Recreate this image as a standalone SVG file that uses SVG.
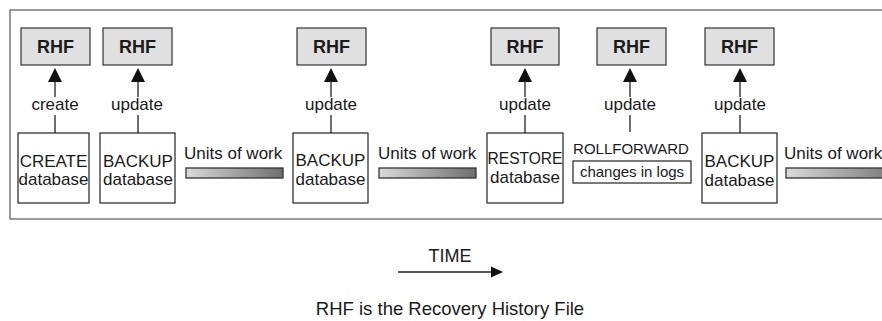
<svg xmlns="http://www.w3.org/2000/svg" width="882" height="321" viewBox="0 0 882 321">
<style>
text{font-family:"Liberation Sans",Arial,sans-serif;fill:#1a1a1a}
.t{font-size:17px}
.rhf rect{fill:#e0e0e0;stroke:#333;stroke-width:1.2}
.rhf text{font-size:18px;font-weight:bold;text-anchor:middle}
.box{fill:#fff;stroke:#222;stroke-width:1.2}
.c{text-anchor:middle}
.ln{stroke:#222;stroke-width:1.3;fill:none}
.bar{fill:url(#g);stroke:#333;stroke-width:1.3}
</style>
<defs>
<linearGradient id="g" x1="0" y1="0" x2="1" y2="0">
<stop offset="0" stop-color="#dadada"/>
<stop offset="1" stop-color="#6e6e6e"/>
</linearGradient>
<marker id="ah" viewBox="0 0 14 14" refX="7" refY="1" markerWidth="14" markerHeight="14" markerUnits="userSpaceOnUse" orient="auto-start-reverse">
<path d="M0,14 L7,0 L14,14 Z" fill="#111"/>
</marker>
</defs>
<rect x="10" y="10" width="900" height="209" fill="#fff" stroke="#666" stroke-width="1.3"/>

<g id="rhf1" class="rhf"><rect x="21" y="28" width="69" height="37"/><text x="55.5" y="53">RHF</text></g>
<g id="rhf2" class="rhf"><rect x="103" y="28" width="69" height="37"/><text x="137.5" y="53">RHF</text></g>
<g id="rhf3" class="rhf"><rect x="297" y="28" width="69" height="37"/><text x="331.5" y="53">RHF</text></g>
<g id="rhf4" class="rhf"><rect x="491" y="28" width="68" height="37"/><text x="525" y="53">RHF</text></g>
<g id="rhf5" class="rhf"><rect x="597" y="28" width="69" height="37"/><text x="631.5" y="53">RHF</text></g>
<g id="rhf6" class="rhf"><rect x="705" y="28" width="69" height="37"/><text x="739.5" y="53">RHF</text></g>

<g id="connectors">
<path class="ln" d="M55,133 V115 M55,97 V81"/>
<path d="M48,82 L55,68 L62,82 Z" fill="#111"/>
<text class="t c" x="55" y="110">create</text>
<path class="ln" d="M138,133 V115 M138,97 V81"/>
<path d="M131,82 L138,68 L145,82 Z" fill="#111"/>
<text class="t c" x="137" y="110">update</text>
<path class="ln" d="M331,133 V115 M331,97 V81"/>
<path d="M324,82 L331,68 L338,82 Z" fill="#111"/>
<text class="t c" x="331" y="110">update</text>
<path class="ln" d="M525,133 V115 M525,97 V81"/>
<path d="M518,82 L525,68 L532,82 Z" fill="#111"/>
<text class="t c" x="525" y="110">update</text>
<path class="ln" d="M630,132 V115 M630,97 V81"/>
<path d="M623,82 L630,68 L637,82 Z" fill="#111"/>
<text class="t c" x="630" y="110">update</text>
<path class="ln" d="M740,133 V115 M740,97 V81"/>
<path d="M733,82 L740,68 L747,82 Z" fill="#111"/>
<text class="t c" x="740" y="110">update</text>
</g>

<g id="create"><rect class="box" x="18" y="133" width="71" height="70"/><text class="t c" x="53.5" y="167">CREATE</text><text class="t c" x="53.5" y="185">database</text></g>
<g id="backup1"><rect class="box" x="100" y="133" width="75" height="70"/><text class="t c" x="138" y="167">BACKUP</text><text class="t c" x="138" y="185">database</text></g>
<g id="uow1"><text class="t" x="184" y="159">Units of work</text><rect class="bar" x="186" y="168" width="97" height="10"/></g>
<g id="backup2"><rect class="box" x="293" y="133" width="75" height="70"/><text class="t c" x="330.5" y="166">BACKUP</text><text class="t c" x="330.5" y="185">database</text></g>
<g id="uow2"><text class="t" x="378" y="159">Units of work</text><rect class="bar" x="379" y="168" width="97" height="10"/></g>
<g id="restore"><rect class="box" x="487" y="133" width="76" height="70"/><text class="c" style="font-size:16px" x="525" y="164" textLength="75" lengthAdjust="spacingAndGlyphs">RESTORE</text><text class="t c" x="525" y="183">database</text></g>
<g id="rollforward"><text class="c" style="font-size:15px" x="631" y="154">ROLLFORWARD</text><rect class="box" x="573" y="161" width="118" height="22"/><text class="c" style="font-size:15px" x="632" y="177">changes in logs</text></g>
<g id="backup3"><rect class="box" x="702" y="133" width="75" height="70"/><text class="t c" x="739.5" y="167">BACKUP</text><text class="t c" x="739.5" y="186">database</text></g>
<g id="uow3"><text class="t" x="784" y="159">Units of work</text><rect class="bar" x="786" y="168" width="120" height="10"/></g>

<g id="time">
<text class="c" style="font-size:18px" x="450" y="262">TIME</text>
<path class="ln" d="M398,272 H492"/>
<path d="M491,266.5 L503,272 L491,277.5 Z" fill="#111"/>
</g>
<text class="c" style="font-size:18.5px" x="450" y="315">RHF is the Recovery History File</text>
</svg>
